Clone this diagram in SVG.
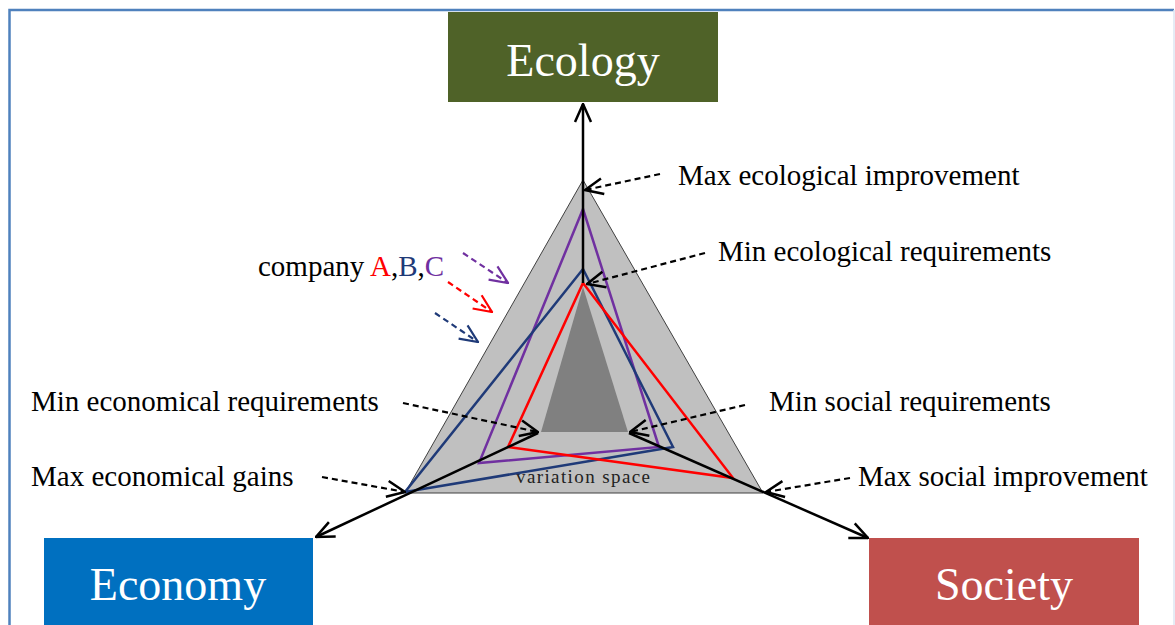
<svg xmlns="http://www.w3.org/2000/svg" width="1175" height="625" viewBox="0 0 1175 625">
<defs>
<style>
.lbl{font-family:"Liberation Serif","Times New Roman",serif;font-size:29px;fill:#000}
.box{font-family:"Liberation Serif","Times New Roman",serif;font-size:46px;fill:#fff;text-anchor:middle}
.ax{stroke:#000;stroke-width:2.5;fill:none}
.dash{stroke:#000;stroke-width:2.2;stroke-dasharray:6,4;fill:none}
.co{fill:none;stroke-width:2.5}
</style>
<marker id="ahB" viewBox="0 0 20 20" refX="19" refY="10" markerWidth="20" markerHeight="20" markerUnits="userSpaceOnUse" orient="auto">
<path d="M1,2 L19,10 L1,18" fill="none" stroke="#000" stroke-width="2.5"/>
</marker>
<marker id="ahP" viewBox="0 0 20 20" refX="19" refY="10" markerWidth="20" markerHeight="20" markerUnits="userSpaceOnUse" orient="auto">
<path d="M1,2 L19,10 L1,18" fill="none" stroke="#7030a0" stroke-width="2.2"/>
</marker>
<marker id="ahR" viewBox="0 0 20 20" refX="19" refY="10" markerWidth="20" markerHeight="20" markerUnits="userSpaceOnUse" orient="auto">
<path d="M1,2 L19,10 L1,18" fill="none" stroke="#ff0000" stroke-width="2.2"/>
</marker>
<marker id="ahN" viewBox="0 0 20 20" refX="19" refY="10" markerWidth="20" markerHeight="20" markerUnits="userSpaceOnUse" orient="auto">
<path d="M1,2 L19,10 L1,18" fill="none" stroke="#1f3a78" stroke-width="2.2"/>
</marker>
</defs>
<rect width="1175" height="625" fill="#fff"/>
<path d="M9.5,630 V10 H1174" fill="none" stroke="#4f81bd" stroke-width="2.5"/>
<line x1="1174" y1="10" x2="1174" y2="625" stroke="#dce6f2" stroke-width="1.5"/>

<g id="triangle">
<polygon points="583,180 405,493 763,493" fill="#c0c0c0" stroke="#404040" stroke-width="1"/>
<polygon points="583,287 541,432 628,432" fill="#808080"/>
<text x="583" y="483" font-family="Liberation Serif, serif" font-size="19" fill="#222" text-anchor="middle" textLength="134" lengthAdjust="spacing">variation space</text>
</g>

<g id="companies">
<polygon class="co" points="583,209 659,447 479,463" stroke="#7030a0"/>
<polygon class="co" points="583,269 673,447 405,492" stroke="#1f3a78"/>
<polygon class="co" points="583,283 733,478 508,447" stroke="#ff0000"/>
</g>

<g id="connectors">
<line class="ax" x1="583" y1="283" x2="583" y2="104" marker-end="url(#ahB)"/>
<line class="ax" x1="538" y1="433" x2="316" y2="537" marker-end="url(#ahB)"/>
<line class="ax" x1="629" y1="433" x2="868" y2="538" marker-end="url(#ahB)"/>
<line class="dash" x1="660" y1="174" x2="585" y2="190" marker-end="url(#ahB)"/>
<line class="dash" x1="705" y1="253" x2="587" y2="284" marker-end="url(#ahB)"/>
<line class="dash" x1="403" y1="403" x2="538" y2="432" marker-end="url(#ahB)"/>
<line class="dash" x1="745" y1="405" x2="630" y2="432" marker-end="url(#ahB)"/>
<line class="dash" x1="322" y1="477" x2="405" y2="492" marker-end="url(#ahB)"/>
<line class="dash" x1="850" y1="478" x2="766" y2="492" marker-end="url(#ahB)"/>
<line x1="463" y1="253" x2="508" y2="283" stroke="#7030a0" stroke-width="2.2" stroke-dasharray="6,4" marker-end="url(#ahP)"/>
<line x1="448" y1="282" x2="492" y2="312" stroke="#ff0000" stroke-width="2.2" stroke-dasharray="6,4" marker-end="url(#ahR)"/>
<line x1="435" y1="313" x2="478" y2="342" stroke="#1f3a78" stroke-width="2.2" stroke-dasharray="6,4" marker-end="url(#ahN)"/>
</g>

<g id="ecology">
<rect x="448" y="12" width="270" height="90" fill="#4f6228"/>
<text class="box" x="583" y="76">Ecology</text>
</g>
<g id="economy">
<rect x="44" y="538" width="269" height="95" fill="#0070c0"/>
<text class="box" x="178" y="600">Economy</text>
</g>
<g id="society">
<rect x="869" y="538" width="270" height="95" fill="#c0504d"/>
<text class="box" x="1004" y="600">Society</text>
</g>

<g id="labels">
<text class="lbl" x="678" y="185">Max ecological improvement</text>
<text class="lbl" x="718" y="261">Min ecological requirements</text>
<text class="lbl" x="31" y="411">Min economical requirements</text>
<text class="lbl" x="769" y="411">Min social requirements</text>
<text class="lbl" x="31" y="486">Max economical gains</text>
<text class="lbl" x="858" y="486">Max social improvement</text>
<text class="lbl" x="258" y="276">company <tspan fill="#ff0000">A</tspan><tspan>,</tspan><tspan fill="#1f3a78">B</tspan><tspan>,</tspan><tspan fill="#7030a0">C</tspan></text>
</g>
</svg>
